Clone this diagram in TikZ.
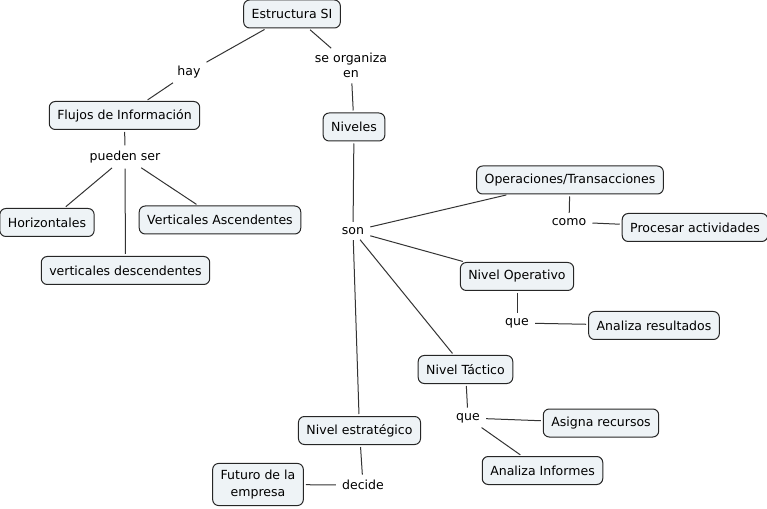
\documentclass[tikz,border=0pt]{standalone}
\usepackage{fontspec}
\setmainfont{DejaVu Sans}
\begin{document}
\begin{tikzpicture}[x=0.75pt,y=-0.75pt,
  concept/.style={draw=black!85, line width=0.75pt, rounded corners=4.5pt,
    fill={rgb,255:red,238;green,243;blue,246}, inner xsep=6pt, inner ysep=5pt,
    minimum height=21pt, font=\fontsize{9.4pt}{12.5pt}\selectfont, align=center},
  phrase/.style={inner xsep=3pt, inner ysep=2.5pt, font=\fontsize{9.4pt}{11.3pt}\selectfont, align=center},
  link/.style={draw=black!80, line width=0.75pt, shorten <=1.5pt, shorten >=1.5pt}]
\useasboundingbox (0,0) rectangle (767,509);
% concepts
\node[concept] (est) at (292,14) {Estructura SI};
\node[concept] (flu) at (124.5,115.5) {Flujos de Información};
\node[concept] (niv) at (354,127) {Niveles};
\node[concept] (hor) at (47,222.5) {Horizontales};
\node[concept] (vas) at (220,220) {Verticales Ascendentes};
\node[concept] (vde) at (125.5,270.5) {verticales descendentes};
\node[concept] (ope) at (570,180) {Operaciones/Transacciones};
\node[concept] (pro) at (695,227.5) {Procesar actividades};
\node[concept] (nop) at (517,276.5) {Nivel Operativo};
\node[concept] (are) at (654,325.5) {Analiza resultados};
\node[concept] (nta) at (465.5,369.5) {Nivel Táctico};
\node[concept] (asi) at (601,423) {Asigna recursos};
\node[concept] (ain) at (542.5,470.5) {Analiza Informes};
\node[concept] (nes) at (359.5,430.5) {Nivel estratégico};
\node[concept] (fut) at (258,484.5) {Futuro de la\\empresa};
% linking phrases
\node[phrase] (hay) at (189,72) {hay};
\node[phrase] (seo) at (351,65.5) {se organiza\\en};
\node[phrase] (pue) at (125,157) {pueden ser};
\node[phrase] (son) at (353,231) {son};
\node[phrase] (com) at (569,222) {como};
\node[phrase] (qop) at (517,323) {que};
\node[phrase] (qta) at (468,418) {que};
\node[phrase] (dec) at (363,485) {decide};
% connectors
\draw[link] (est) -- (hay);
\draw[link] (hay) -- (flu);
\draw[link] (est) -- (seo);
\draw[link] (seo) -- (niv);
\draw[link] (flu) -- (pue);
\draw[link] (pue) -- (hor);
\draw[link] (pue) -- (vas);
\draw[link] (pue) -- (vde);
\draw[link] (niv) -- (son);
\draw[link] (son) -- (ope);
\draw[link] (son) -- (nop);
\draw[link] (son) -- (nta);
\draw[link] (son) -- (nes);
\draw[link] (ope) -- (com);
\draw[link] (com) -- (pro);
\draw[link] (nop) -- (qop);
\draw[link] (qop) -- (are);
\draw[link] (nta) -- (qta);
\draw[link] (qta) -- (asi);
\draw[link] (qta) -- (ain);
\draw[link] (nes) -- (dec);
\draw[link] (dec) -- (fut);
\end{tikzpicture}
\end{document}
